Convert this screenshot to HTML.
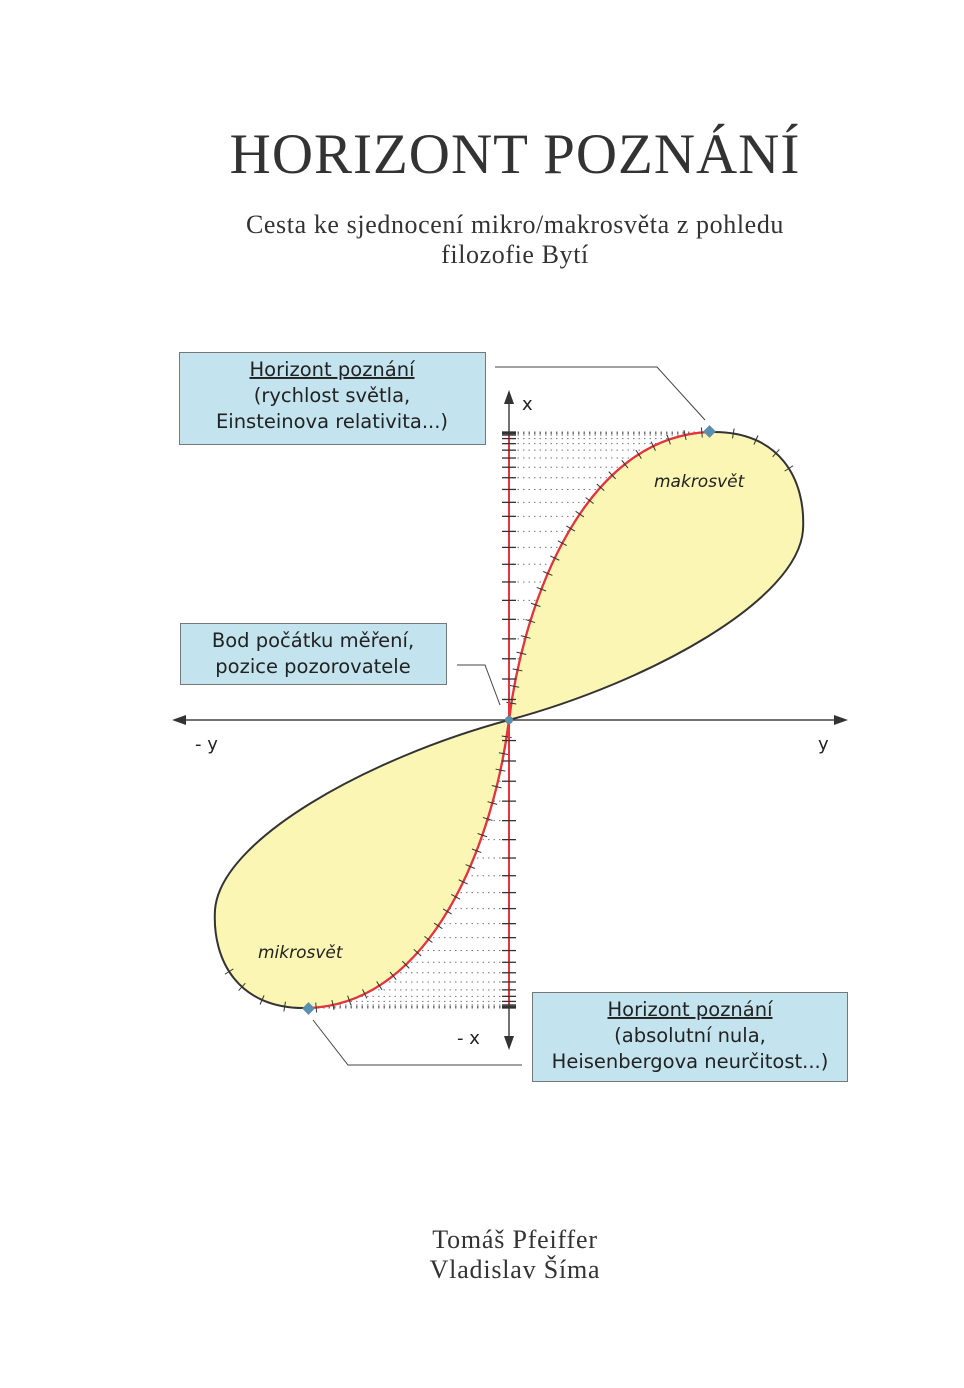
<!DOCTYPE html>
<html><head><meta charset="utf-8"><style>
html,body{margin:0;padding:0;background:#fff;}
body{width:964px;height:1388px;position:relative;overflow:hidden;}
.s{position:absolute;left:0;width:1030px;text-align:center;font-family:"Liberation Serif",serif;color:#333;}
</style></head><body>
<div class="s" style="top:122px;font-size:57px;letter-spacing:1px;">HORIZONT POZNÁNÍ</div>
<div class="s" style="top:210px;font-size:26px;line-height:30px;letter-spacing:0.6px;">Cesta ke sjednocení mikro/makrosvěta z pohledu<br>filozofie Bytí</div>
<div class="s" style="top:1225px;font-size:26px;line-height:30px;letter-spacing:0.8px;">Tomáš Pfeiffer<br>Vladislav Šíma</div>
<svg id="sv" width="964" height="1388" style="position:absolute;left:0;top:0" xmlns="http://www.w3.org/2000/svg">
<g font-family="DejaVu Sans, Liberation Sans, sans-serif" fill="#222">
<rect x="179.5" y="352.5" width="306" height="92" fill="#c3e4ee" stroke="#777"/>
<text x="332" y="376" font-size="19.5" text-anchor="middle" text-decoration="underline">Horizont poznání</text>
<text x="332" y="402" font-size="19.5" text-anchor="middle">(rychlost světla,</text>
<text x="332" y="428" font-size="19.5" text-anchor="middle">Einsteinova relativita...)</text>
<rect x="180.5" y="623.5" width="266" height="61" fill="#c3e4ee" stroke="#777"/>
<text x="313" y="647" font-size="19.5" text-anchor="middle">Bod počátku měření,</text>
<text x="313" y="673" font-size="19.5" text-anchor="middle">pozice pozorovatele</text>
<rect x="532.5" y="992.5" width="315" height="89" fill="#c3e4ee" stroke="#777"/>
<text x="690" y="1016" font-size="19.5" text-anchor="middle" text-decoration="underline">Horizont poznání</text>
<text x="690" y="1042" font-size="19.5" text-anchor="middle">(absolutní nula,</text>
<text x="690" y="1068" font-size="19.5" text-anchor="middle">Heisenbergova neurčitost...)</text>
<polyline points="495,367 657,367 705,420" fill="none" stroke="#444" stroke-width="1"/>
<polyline points="457,665 485,665 500,705" fill="none" stroke="#444" stroke-width="1"/>
<polyline points="522,1065 348,1065 313,1020" fill="none" stroke="#444" stroke-width="1"/>
<g id="lobe"></g>
<g id="lobe2" transform="rotate(180 509 720)"></g>
<line x1="180" y1="720" x2="840" y2="720" stroke="#444" stroke-width="1.5"/>
<polygon points="172,720 186,715 186,725" fill="#333"/>
<polygon points="848,720 834,715 834,725" fill="#333"/>
<line x1="509" y1="398" x2="509" y2="1042" stroke="#444" stroke-width="1.5"/>
<polygon points="509,390 504,404 514,404" fill="#333"/>
<polygon points="509,1050 504,1036 514,1036" fill="#333"/>
<line x1="509" y1="432" x2="509" y2="1008" stroke="#e8323c" stroke-width="2"/>
<g id="axt"></g>
<circle cx="509" cy="720" r="4" fill="#5a8fb0"/>
<rect x="705" y="427" width="9" height="9" fill="#5a8fb0" transform="rotate(45 709.5 431.5)"/>
<rect x="304" y="1004" width="9" height="9" fill="#5a8fb0" transform="rotate(45 308.5 1008.5)"/>
<text x="195" y="750" font-size="18">- y</text>
<text x="818" y="750" font-size="18">y</text>
<text x="522" y="410" font-size="18">x</text>
<text x="457" y="1044" font-size="18">- x</text>
<text x="654" y="487" font-size="17" font-style="italic">makrosvět</text>
<text x="258" y="958" font-size="17" font-style="italic">mikrosvět</text>
</g>
</svg>
<script>
(function(){
var NS="http://www.w3.org/2000/svg";
function el(p,t,a){var e=document.createElementNS(NS,t);for(var k in a)e.setAttribute(k,a[k]);p.appendChild(e);return e;}
function mk(O,C1,C2,P){return function(t){var u=1-t;return [u*u*u*O[0]+3*u*u*t*C1[0]+3*u*t*t*C2[0]+t*t*t*P[0],u*u*u*O[1]+3*u*u*t*C1[1]+3*u*t*t*C2[1]+t*t*t*P[1]];};}
var bz=mk([509,720],[524,600],[585,436],[710,432]);
var bz2=mk([710,432],[780,430],[806,480],[803,530]);
function xAtY(y){var b=0,bd=1e9;for(var i=0;i<=400;i++){var p=bz(i/400);var d=Math.abs(p[1]-y);if(d<bd){bd=d;b=p[0];}}return b;}
function tick(g,f,t){var a=f(Math.max(0,t-0.003)),b=f(Math.min(1,t+0.003)),p=f(t);var dx=b[0]-a[0],dy=b[1]-a[1],m=Math.hypot(dx,dy);var nx=-dy/m*5,ny=dx/m*5;
  el(g,'line',{x1:p[0]-nx,y1:p[1]-ny,x2:p[0]+nx,y2:p[1]+ny,stroke:'#333','stroke-width':1});}
var ys=[];for(var i=1;i<=22;i++){var t=i/22;ys.push(720-288*Math.sin(t*Math.PI/2));}
ys.push(433.5);ys.push(435);
[document.getElementById('lobe'),document.getElementById('lobe2')].forEach(function(g){
 ys.forEach(function(y){var x=xAtY(y);el(g,'line',{x1:512,y1:y,x2:x,y2:y,stroke:'#777','stroke-width':1,'stroke-dasharray':'1.5,4'});});
 el(g,'path',{d:'M509,720 C524,600 585,436 710,432 C780,430 806,480 803,530 C798,600 650,682 509,720 Z',fill:'#fbf6b4',stroke:'#333','stroke-width':2});
 el(g,'path',{d:'M509,720 C524,600 585,436 710,432',fill:'none',stroke:'#e8323c','stroke-width':2.2});
 var pts=[],L=0,prev=bz(0);pts.push([0,0]);
 for(var i=1;i<=1000;i++){var p=bz(i/1000);L+=Math.hypot(p[0]-prev[0],p[1]-prev[1]);pts.push([i/1000,L]);prev=p;}
 var n=22;for(var k=1;k<=n;k++){var tl=L*k/(n+0.5);var t=0;for(var j=0;j<pts.length;j++){if(pts[j][1]>=tl){t=pts[j][0];break;}}tick(g,bz,t);}
 [0.12,0.26,0.42,0.56].forEach(function(t){tick(g,bz2,t);});
});
var ax=document.getElementById('axt');
ys.forEach(function(y){el(ax,'line',{x1:502,y1:y,x2:516,y2:y,stroke:'#333','stroke-width':1.3});el(ax,'line',{x1:502,y1:1440-y,x2:516,y2:1440-y,stroke:'#333','stroke-width':1.3});});
})();
</script>
</body></html>
